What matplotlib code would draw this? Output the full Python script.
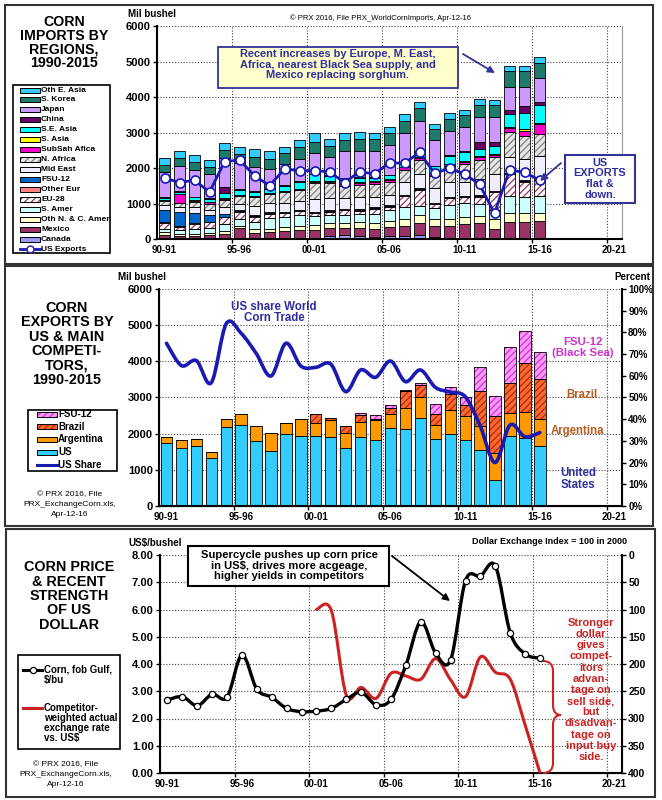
import matplotlib.pyplot as plt
from matplotlib.patches import Rectangle, PathPatch
from matplotlib.path import Path
from matplotlib.lines import Line2D

plt.rcParams['font.family'] = ['Liberation Sans', 'DejaVu Sans']
plt.rcParams['font.weight'] = 'bold'
plt.rcParams['hatch.linewidth'] = 0.9

W, H = 662, 800
NAVY = "#2E2E9E"
RED = "#CC2222"

seasons = ['90-91', '91-92', '92-93', '93-94', '94-95', '95-96', '96-97', '97-98',
           '98-99', '99-00', '00-01', '01-02', '02-03', '03-04', '04-05', '05-06',
           '06-07', '07-08', '08-09', '09-10', '10-11', '11-12', '12-13', '13-14',
           '14-15', '15-16']
tick_pos = [0, 5, 10, 15, 20, 25, 30]
tick_labels = ['90-91', '95-96', '00-01', '05-06', '10-11', '15-16', '20-21']

# ---- panel 1: corn imports by region (mil bu)
canada = [25, 30, 20, 30, 20, 25, 30, 20, 30, 35, 40, 90, 110, 100, 70, 90, 80, 120, 60, 30, 30, 30, 30, 30, 30, 40]
mexico = [100, 60, 60, 80, 120, 280, 160, 180, 200, 220, 230, 220, 200, 220, 230, 250, 300, 350, 320, 350, 400, 420, 250, 470, 470, 470]
oth_nc_amer = [70, 60, 70, 70, 100, 80, 90, 100, 120, 130, 140, 150, 160, 160, 170, 180, 190, 200, 190, 200, 200, 200, 300, 230, 230, 230]
s_amer = [100, 120, 130, 150, 200, 180, 200, 300, 280, 300, 250, 220, 200, 220, 240, 300, 350, 280, 320, 380, 400, 350, 250, 500, 470, 470]
eu28 = [150, 80, 150, 150, 180, 200, 150, 120, 100, 100, 80, 100, 150, 100, 150, 100, 300, 450, 100, 200, 150, 200, 500, 600, 420, 450]
other_eur = [30, 30, 20, 20, 20, 20, 20, 20, 20, 20, 20, 20, 20, 20, 20, 20, 20, 20, 20, 20, 20, 20, 20, 20, 20, 20]
fsu12 = [350, 400, 300, 180, 60, 40, 30, 30, 20, 20, 20, 20, 20, 20, 20, 20, 20, 20, 20, 20, 20, 20, 20, 20, 20, 20]
mid_east = [150, 120, 150, 150, 200, 180, 250, 250, 250, 250, 350, 350, 300, 350, 300, 300, 350, 400, 400, 400, 400, 450, 470, 450, 600, 650]
n_africa = [100, 120, 150, 150, 200, 200, 250, 250, 300, 300, 450, 400, 350, 350, 350, 350, 350, 400, 350, 450, 500, 550, 470, 700, 640, 610]
subsah = [30, 250, 40, 70, 40, 30, 30, 30, 30, 30, 30, 40, 40, 40, 60, 70, 60, 50, 50, 60, 60, 70, 60, 100, 160, 280]
s_asia = [10, 10, 10, 10, 10, 10, 10, 10, 10, 10, 20, 20, 20, 20, 20, 20, 20, 20, 20, 20, 20, 30, 30, 30, 30, 30]
se_asia = [60, 60, 80, 80, 150, 130, 120, 100, 150, 200, 200, 150, 130, 120, 100, 100, 120, 150, 200, 200, 250, 200, 230, 380, 470, 500]
china = [20, 20, 20, 20, 180, 40, 30, 20, 20, 20, 20, 20, 20, 20, 20, 20, 20, 20, 20, 40, 40, 200, 120, 120, 200, 90]
japan = [705, 690, 740, 670, 810, 725, 670, 550, 590, 635, 570, 510, 760, 740, 740, 840, 815, 850, 735, 685, 670, 710, 700, 645, 535, 670]
s_korea = [200, 230, 240, 200, 220, 250, 280, 280, 300, 320, 330, 320, 320, 330, 320, 320, 330, 360, 290, 330, 330, 330, 330, 450, 450, 420]
oth_e_asia = [180, 200, 190, 200, 190, 200, 220, 220, 180, 200, 230, 180, 180, 200, 170, 170, 200, 180, 150, 160, 150, 160, 140, 130, 130, 170]
us_exports = [1733, 1592, 1668, 1322, 2183, 2231, 1789, 1508, 1978, 1930, 1930, 1902, 1592, 1902, 1837, 2155, 2137, 2447, 1856, 1997, 1837, 1547, 731, 1949, 1885, 1668]

# ---- panel 2: exports by US and competitors (mil bu), US share (%)
argentina = [185, 235, 175, 160, 225, 305, 430, 500, 310, 475, 370, 480, 440, 420, 540, 380, 570, 570, 390, 655, 640, 665, 735, 635, 725, 730]
brazil = [0, 0, 0, 0, 0, 0, 0, 0, 0, 0, 250, 60, 190, 200, 40, 170, 480, 320, 300, 440, 320, 975, 1015, 830, 1355, 1105]
fsu_exports = [0, 0, 0, 0, 0, 0, 0, 0, 0, 0, 0, 0, 0, 40, 100, 90, 20, 55, 265, 190, 210, 665, 555, 975, 885, 765]
us_share = [75.0, 64.7, 67.0, 56.8, 84.0, 79.6, 70.4, 59.9, 75.0, 64.5, 63.9, 65.4, 52.7, 62.7, 59.3, 66.8, 57.3, 62.7, 54.7, 52.5, 50.4, 37.0, 20.0, 37.3, 31.9, 33.8]

# ---- panel 3: corn price ($/bu) and dollar index (2000 = 100)
corn_price = [2.68, 2.80, 2.47, 2.89, 2.78, 4.33, 3.07, 2.78, 2.37, 2.25, 2.27, 2.37, 2.70, 2.96, 2.50, 2.70, 3.96, 5.55, 4.39, 4.15, 7.06, 7.23, 7.60, 5.15, 4.37, 4.21]
fx_start = 10  # index series begins in 00-01
dollar_index = [100, 102, 257, 243, 263, 217, 222, 228, 190, 229, 260, 187, 215, 228, 312, 400]

x = list(range(len(seasons)))


def smooth_line(ax, xs, ys, **kw):
    # Excel-style smoothed line drawn as bezier segments through the points
    pts = list(zip(xs, ys))
    verts, codes = [pts[0]], [Path.MOVETO]
    for k in range(len(pts) - 1):
        p0 = pts[max(k - 1, 0)]
        p1, p2 = pts[k], pts[k + 1]
        p3 = pts[min(k + 2, len(pts) - 1)]
        verts += [(p1[0] + (p2[0] - p0[0]) / 6, p1[1] + (p2[1] - p0[1]) / 6),
                  (p2[0] - (p3[0] - p1[0]) / 6, p2[1] - (p3[1] - p1[1]) / 6),
                  p2]
        codes += [Path.CURVE4] * 3
    ax.add_patch(PathPatch(Path(verts, codes), fill=False, capstyle='round',
                           joinstyle='round', **kw))


def stack_bar(ax, vals, bottom, face, hatch_col, width):
    if hatch_col:
        ax.bar(x, vals, width, bottom=bottom, color=face, edgecolor=hatch_col,
               hatch='/////', linewidth=0)
        ax.bar(x, vals, width, bottom=bottom, fill=False, edgecolor='black', linewidth=0.6)
    else:
        ax.bar(x, vals, width, bottom=bottom, color=face, edgecolor='black', linewidth=0.6)
    return [b + v for b, v in zip(bottom, vals)]


def style_axis(ax, ymax, ystep, fmt):
    ax.set_xlim(-0.5, 30.5)
    ax.set_ylim(0, ymax)
    ax.set_xticks(tick_pos)
    ax.set_xticklabels(tick_labels, fontsize=7)
    ax.set_xticks([v + 4.5 for v in tick_pos[:-1]], minor=True)
    ax.tick_params(axis='x', which='major', length=0, pad=4)
    ax.tick_params(axis='x', which='minor', length=3, direction='out', width=1)
    ticks = [ystep * k for k in range(int(round(ymax / ystep)) + 1)]
    ax.set_yticks(ticks)
    ax.set_yticklabels([fmt(t) for t in ticks], fontsize=8)
    ax.tick_params(axis='y', length=3, width=1, pad=1.5)
    ax.grid(True, axis='y', which='major', color='#444444', linestyle=(0, (1, 1.6)), linewidth=0.8)
    ax.grid(True, axis='x', which='minor', color='#444444', linestyle=(0, (1, 1.6)), linewidth=0.8)
    ax.set_axisbelow(True)
    ax.spines['left'].set_linewidth(1.5)
    ax.spines['bottom'].set_linewidth(1.5)
    ax.spines['top'].set_visible(False)
    ax.spines['right'].set_color('#999999')
    ax.spines['right'].set_linewidth(0.8)


fig = plt.figure(figsize=(W / 100, H / 100), dpi=100)

# ================= panel 1
ax1 = fig.add_axes([157 / W, 1 - 239.3 / H, 465 / W, 213.3 / H])
import_stack = [
    ("Canada", canada, "#9999FF", None),
    ("Mexico", mexico, "#993366", None),
    ("Oth N. & C. Amer", oth_nc_amer, "#FFFFCC", None),
    ("S. Amer", s_amer, "#CCFFFF", None),
    ("EU-28", eu28, "#FFFFFF", "#993366"),
    ("Other Eur", other_eur, "#FF8080", None),
    ("FSU-12", fsu12, "#0066CC", None),
    ("Mid East", mid_east, "#EEEEFF", None),
    ("N. Africa", n_africa, "#E6E6E6", "#7F7F7F"),
    ("SubSah Afica", subsah, "#FF00CC", None),
    ("S. Asia", s_asia, "#FFFF00", None),
    ("S.E. Asia", se_asia, "#00FFFF", None),
    ("China", china, "#660066", None),
    ("Japan", japan, "#CC99FF", None),
    ("S. Korea", s_korea, "#1E7B6B", None),
    ("Oth E. Asia", oth_e_asia, "#33CCFF", None),
]
bottom = [0] * len(x)
for name, vals, face, hcol in import_stack:
    bottom = stack_bar(ax1, vals, bottom, face, hcol, 0.74)
ax1.plot(x, us_exports, color='#1A1AB3', lw=2, marker='o', ms=6.5,
         mfc='white', mec='#1A1AB3', mew=1.2, zorder=5)
style_axis(ax1, 6000, 1000, lambda v: f"{v:.0f}")

# ================= panel 2
ax2 = fig.add_axes([159 / W, 1 - 506 / H, 463 / W, 217 / H])
export_stack = [
    ("US", us_exports, "#33CCFF", None),
    ("Argentina", argentina, "#FF9900", None),
    ("Brazil", brazil, "#FF6633", "#A83000"),
    ("FSU-12", fsu_exports, "#FF99FF", "#CC33CC"),
]
bottom = [0] * len(x)
for name, vals, face, hcol in export_stack:
    bottom = stack_bar(ax2, vals, bottom, face, hcol, 0.76)
style_axis(ax2, 6000, 1000, lambda v: f"{v:.0f}")
ax2r = ax2.twinx()
ax2r.set_ylim(0, 100)
ax2r.set_yticks(range(0, 101, 10))
ax2r.set_yticklabels([f"{v}%" for v in range(0, 101, 10)], fontsize=7)
ax2r.tick_params(axis='y', length=3, width=1, pad=1.5)
ax2r.spines['right'].set_linewidth(1.5)
ax2r.spines['right'].set_color('black')
ax2r.spines['top'].set_visible(False)
smooth_line(ax2r, x, us_share, edgecolor='#1A1AB3', lw=2.6, zorder=5)

# ================= panel 3
ax3 = fig.add_axes([160 / W, 1 - 773 / H, 462 / W, 218 / H])
style_axis(ax3, 8, 1, lambda v: f"{v:.2f}")
ax3r = ax3.twinx()
ax3r.set_ylim(400, 0)
ax3r.set_yticks(range(0, 401, 50))
ax3r.set_yticklabels([str(v) for v in range(0, 401, 50)], fontsize=7.5)
ax3r.tick_params(axis='y', length=3, width=1, pad=1.5)
ax3r.spines['right'].set_linewidth(1.5)
ax3r.spines['right'].set_color('black')
ax3r.spines['top'].set_visible(False)
smooth_line(ax3r, x[fx_start:], dollar_index, edgecolor=RED, lw=2.2, zorder=4)
smooth_line(ax3r, x, [400 - 50 * p for p in corn_price], edgecolor='black', lw=2.4, zorder=5)
ax3r.plot(x, [400 - 50 * p for p in corn_price], linestyle='none', marker='o', ms=4.5,
          mfc='white', mec='black', mew=0.9, zorder=6)

# ================= overlay for frames, titles, legends and notes (pixel coords)
ov = fig.add_axes([0, 0, 1, 1], zorder=10)
ov.set_xlim(0, W)
ov.set_ylim(H, 0)
ov.axis('off')

for (x0, y0, x1, y1) in [(5, 5, 653, 264), (5, 266, 653, 526), (6, 529, 655, 797)]:
    ov.add_patch(Rectangle((x0, y0), x1 - x0, y1 - y0, fill=False, ec='#333333', lw=1.5))


def lines_at(lines, xc, y0, pitch, **kw):
    for k, s in enumerate(lines):
        ov.text(xc, y0 + k * pitch, s, va='center', **kw)


def legend_patch(xl, yc, face, hcol):
    if hcol:
        ov.add_patch(Rectangle((xl, yc - 2.5), 20, 5, fc=face, ec=hcol, hatch='/////', lw=0))
        ov.add_patch(Rectangle((xl, yc - 2.5), 20, 5, fill=False, ec='black', lw=0.7))
    else:
        ov.add_patch(Rectangle((xl, yc - 2.5), 20, 5, fc=face, ec='black', lw=0.7))


# panel 1 texts
lines_at(["CORN", "IMPORTS BY", "REGIONS,", "1990-2015"], 64, 22, 13.6, ha='center', fontsize=10.2)
ov.text(128, 14, "Mil bushel", ha='left', va='center', fontsize=7)
ov.text(381, 18, "\u00a9 PRX 2016, File PRX_WorldCornImports, Apr-12-16", ha='center',
        va='center', fontsize=5.5, fontweight='normal')
ov.add_patch(Rectangle((13, 85), 97, 168, fill=False, ec='black', lw=1.2))
for k, (name, vals, face, hcol) in enumerate(reversed(import_stack)):
    yc = 90 + k * 9.94
    legend_patch(20, yc, face, hcol)
    ov.text(41, yc, name, ha='left', va='center', fontsize=6)
yc = 90 + 16 * 9.94
ov.add_line(Line2D([20, 40], [yc, yc], color='#1A1AB3', lw=2))
ov.plot([30], [yc], marker='o', ms=5, mfc='white', mec='#1A1AB3', mew=1)
ov.text(41, yc, "US Exports", ha='left', va='center', fontsize=6)

ov.add_patch(Rectangle((218, 47), 240, 41, fc='#FFFFCC', ec='#333399', lw=1.3))
lines_at(["Recent increases by Europe, M. East,", "Africa, nearest Black Sea supply, and",
          "Mexico replacing sorghum."], 338, 54, 10.6, ha='center', fontsize=7.9, color=NAVY)
ov.annotate('', xy=(495, 73), xytext=(463, 54),
            arrowprops=dict(arrowstyle='-|>', color='#333399', lw=1.3, mutation_scale=10,
                            shrinkA=0, shrinkB=0))
ov.add_patch(Rectangle((565, 155), 70, 48, fc='white', ec='#333399', lw=1.5))
lines_at(["US", "EXPORTS", "flat &", "down."], 600, 162.5, 10.8, ha='center', fontsize=7.9, color=NAVY)
ov.annotate('', xy=(540, 181), xytext=(561, 163),
            arrowprops=dict(arrowstyle='-|>', color='#333399', lw=1.3, mutation_scale=10,
                            shrinkA=0, shrinkB=0))

# panel 2 texts
lines_at(["CORN", "EXPORTS BY", "US & MAIN", "COMPETI-", "TORS,", "1990-2015"], 67, 308, 14.4,
         ha='center', fontsize=10.4)
ov.text(118, 277, "Mil bushel", ha='left', va='center', fontsize=7)
ov.text(632, 277, "Percent", ha='center', va='center', fontsize=7)
ov.add_patch(Rectangle((28, 410), 89, 61, fill=False, ec='black', lw=1.2))
for k, (name, vals, face, hcol) in enumerate(reversed(export_stack)):
    yc = 414.3 + k * 12.6
    legend_patch(37, yc, face, hcol)
    ov.text(58, yc, name, ha='left', va='center', fontsize=7)
yc = 414.3 + 4 * 12.6
ov.add_line(Line2D([37, 57], [yc, yc], color='#1A1AB3', lw=2.2))
ov.text(58, yc, "US Share", ha='left', va='center', fontsize=7)
lines_at(["\u00a9 PRX 2016, File", "PRX_ExchangeCorn.xls,", "Apr-12-16"], 70, 495, 10,
         ha='center', fontsize=6, fontweight='normal')
lines_at(["US share World", "Corn Trade"], 274, 307, 11, ha='center', fontsize=8.3, color=NAVY)
lines_at(["FSU-12", "(Black Sea)"], 583, 342, 10.6, ha='center', fontsize=8.2, color='#CC33CC')
ov.text(582, 394.5, "Brazil", ha='center', va='center', fontsize=8.3, color='#B85C1F')
ov.text(577, 431, "Argentina", ha='center', va='center', fontsize=8.3, color='#B85C1F')
lines_at(["United", "States"], 578, 473, 12, ha='center', fontsize=8.3, color=NAVY)

# panel 3 texts
lines_at(["CORN PRICE", "& RECENT", "STRENGTH", "OF US", "DOLLAR"], 69, 567, 14.5,
         ha='center', fontsize=10.4)
ov.text(128, 543, "US$/bushel", ha='left', va='center', fontsize=7)
ov.text(472, 542, "Dollar Exchange Index = 100 in 2000", ha='left', va='center', fontsize=6.5)
ov.add_patch(Rectangle((18, 655), 102, 94, fill=False, ec='black', lw=1.2))
ov.add_line(Line2D([23, 42], [670, 670], color='black', lw=2.2))
ov.plot([33], [670], marker='o', ms=4.5, mfc='white', mec='black', mew=0.9)
lines_at(["Corn, fob Gulf,", "$/bu"], 44, 670, 9.5, ha='left', fontsize=7)
ov.add_line(Line2D([23, 42], [708, 708], color=RED, lw=2.2))
lines_at(["Competitor-", "weighted actual", "exchange rate", "vs. US$"], 44, 708, 10,
         ha='left', fontsize=7)
lines_at(["\u00a9 PRX 2016, File", "PRX_ExchangeCorn.xls,", "Apr-12-16"], 66, 765, 9.8,
         ha='center', fontsize=6, fontweight='normal')

ov.add_patch(Rectangle((188, 546), 201, 40, fc='white', ec='black', lw=1.5))
lines_at(["Supercycle pushes up corn price", "in US$, drives more acgeage,",
          "higher yields in competitors"], 289, 555.5, 10.4, ha='center', fontsize=8.1)
ov.annotate('', xy=(450, 601), xytext=(392, 556),
            arrowprops=dict(arrowstyle='-|>', color='black', lw=1.3, mutation_scale=10,
                            shrinkA=0, shrinkB=0))
lines_at(["Stronger", "dollar", "gives", "compet-", "itors", "advan-", "tage on", "sell side,",
          "but", "disadvan-", "tage on", "input buy", "side."], 591, 623, 11.15,
         ha='center', fontsize=8.0, color=RED)
brace = Path([(543, 661), (553, 661), (553, 671), (553, 705), (553, 715), (561, 715),
              (553, 715), (553, 725), (553, 763), (553, 773), (543, 773)],
             [Path.MOVETO, Path.CURVE3, Path.CURVE3, Path.LINETO, Path.CURVE3, Path.CURVE3,
              Path.CURVE3, Path.CURVE3, Path.LINETO, Path.CURVE3, Path.CURVE3])
ov.add_patch(PathPatch(brace, fill=False, ec=RED, lw=1.5))

fig.savefig('out.png', dpi=100)
